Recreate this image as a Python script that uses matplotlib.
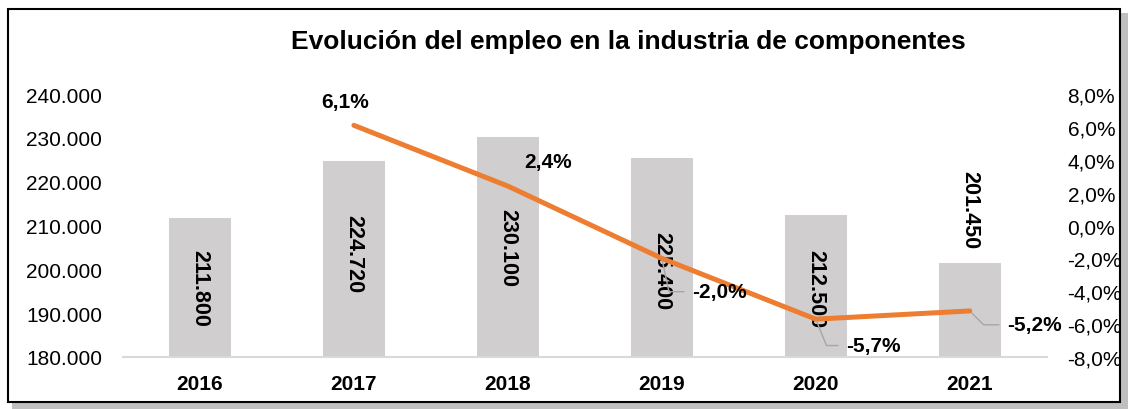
import matplotlib.pyplot as plt
from matplotlib.patches import Rectangle
from matplotlib.ticker import FuncFormatter

plt.rcParams['font.family'] = ['Liberation Sans', 'DejaVu Sans']

years = ['2016', '2017', '2018', '2019', '2020', '2021']
empleo = [211800, 224720, 230100, 225400, 212500, 201450]
var_years = ['2017', '2018', '2019', '2020', '2021']
variacion = [6.1, 2.4, -2.0, -5.7, -5.2]

def miles(v):
    return f"{int(v):,}".replace(",", ".")

def pct(v):
    return f"{v:.1f}%".replace(".", ",")

FS = 15

fig = plt.figure(figsize=(11.28, 4.10), dpi=100)

# marco con sombra
fig.patches.append(Rectangle((0.011, 0.0), 0.989, 0.965, transform=fig.transFigure,
                             facecolor='#bfbfbf', edgecolor='none', zorder=0))
fig.patches.append(Rectangle((0.007, 0.017), 0.986, 0.958, transform=fig.transFigure,
                             facecolor='white', edgecolor='black', lw=1.5, zorder=1))

ax = fig.add_axes([0.109, 0.127, 0.819, 0.641])
ax.set_zorder(2)
ax.patch.set_visible(False)
x = list(range(len(years)))
ax.bar(x, empleo, width=0.4, color='#d0cece')
ax.set_ylim(180000, 240000)
ax.set_xlim(-0.5, len(years) - 0.5)
ax.set_yticks(range(180000, 240001, 10000))
ax.yaxis.set_major_formatter(FuncFormatter(lambda v, p: miles(v)))
ax.set_xticks(x)
ax.set_xticklabels(years, fontweight='bold', fontsize=FS)
ax.tick_params(axis='y', labelsize=FS, length=0, pad=15)
ax.tick_params(axis='x', length=0, pad=12)
for s in ['top', 'right', 'left']:
    ax.spines[s].set_visible(False)
ax.spines['bottom'].set_color('#d9d9d9')
ax.spines['bottom'].set_linewidth(1.5)

# etiquetas de las barras (pequeños desplazamientos como en el original)
shift = [0, 4, 0, -9, -2]
for i, v in enumerate(empleo):
    if i < len(empleo) - 1:
        ax.annotate(miles(v), (i, (180000 + v) / 2), xytext=(0, shift[i]),
                    textcoords='offset points', rotation=-90, ha='center', va='center',
                    fontsize=15.5, fontweight='bold')
    else:
        ax.annotate(miles(v), (i, v), xytext=(0, 11), textcoords='offset points',
                    rotation=-90, ha='center', va='bottom',
                    fontsize=15.5, fontweight='bold')

ax2 = ax.twinx()
ax2.set_ylim(-8, 8)
ax2.set_yticks(range(-8, 9, 2))
ax2.yaxis.set_major_formatter(FuncFormatter(lambda v, p: pct(v)))
ax2.tick_params(axis='y', labelsize=FS, length=0, pad=15)
for s in ['top', 'right', 'left', 'bottom']:
    ax2.spines[s].set_visible(False)
xl = [years.index(y) for y in var_years]
ax2.plot(xl, variacion, color='#ed7d31', lw=3.6, solid_capstyle='round')

# etiquetas de variación
ax2.annotate(pct(variacion[0]), (xl[0], variacion[0]), xytext=(-6, 10),
             textcoords='offset points', ha='center', va='bottom',
             fontsize=FS, fontweight='bold')
ax2.annotate(pct(variacion[1]), (xl[1], variacion[1]), xytext=(11.5, 11),
             textcoords='offset points', ha='left', va='bottom',
             fontsize=FS, fontweight='bold')
leaders = [(22, -24, -78), (22, -19, -68), (27, -10, -45)]
for xi, v, (dx, dy, ang) in zip(xl[2:], variacion[2:], leaders):
    ax2.annotate(pct(v), (xi, v), xytext=(dx, dy), textcoords='offset points',
                 ha='left', va='center', fontsize=FS, fontweight='bold',
                 arrowprops=dict(arrowstyle='-', color='#a6a6a6', lw=1,
                                 relpos=(0, 0.5), shrinkA=4, shrinkB=2,
                                 connectionstyle=f'angle,angleA=0,angleB={ang},rad=0'))

fig.text(0.557, 0.898, 'Evolución del empleo en la industria de componentes',
         ha='center', va='center', fontsize=19, fontweight='bold')

fig.savefig('out.png', dpi=100)
